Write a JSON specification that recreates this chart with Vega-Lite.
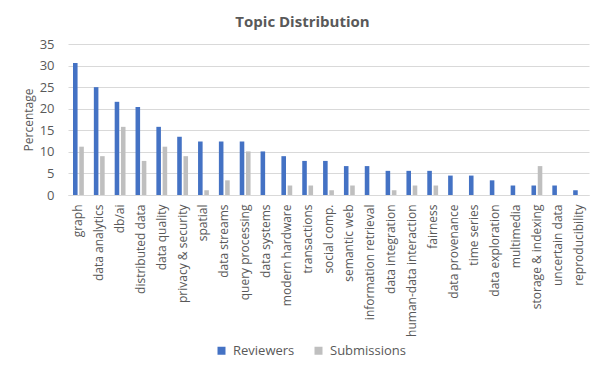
{
  "$schema": "https://vega.github.io/schema/vega-lite/v6.json",
  "width": 521,
  "height": 151,
  "autosize": {"type": "none"},
  "padding": {"left": 68, "top": 44, "right": 4, "bottom": 174},
  "background": "white",
  "title": {
    "text": "Topic Distribution",
    "font": "Open Sans",
    "fontSize": 15,
    "fontWeight": "bold",
    "color": "#595959",
    "anchor": "middle",
    "baseline": "alphabetic",
    "offset": 18,
    "dx": -26,
    "dy": 22
  },
  "data": {
    "values": [
      {"topic": "graph", "group": "Reviewers", "pct": 30.6},
      {"topic": "graph", "group": "Submissions", "pct": 11.2},
      {"topic": "data analytics", "group": "Reviewers", "pct": 25.0},
      {"topic": "data analytics", "group": "Submissions", "pct": 9.0},
      {"topic": "db/ai", "group": "Reviewers", "pct": 21.6},
      {"topic": "db/ai", "group": "Submissions", "pct": 15.8},
      {"topic": "distributed data", "group": "Reviewers", "pct": 20.4},
      {"topic": "distributed data", "group": "Submissions", "pct": 7.9},
      {"topic": "data quality", "group": "Reviewers", "pct": 15.8},
      {"topic": "data quality", "group": "Submissions", "pct": 11.2},
      {"topic": "privacy & security", "group": "Reviewers", "pct": 13.5},
      {"topic": "privacy & security", "group": "Submissions", "pct": 9.0},
      {"topic": "spatial", "group": "Reviewers", "pct": 12.4},
      {"topic": "spatial", "group": "Submissions", "pct": 1.1},
      {"topic": "data streams", "group": "Reviewers", "pct": 12.4},
      {"topic": "data streams", "group": "Submissions", "pct": 3.4},
      {"topic": "query processing", "group": "Reviewers", "pct": 12.4},
      {"topic": "query processing", "group": "Submissions", "pct": 10.1},
      {"topic": "data systems", "group": "Reviewers", "pct": 10.1},
      {"topic": "data systems", "group": "Submissions", "pct": 0},
      {"topic": "modern hardware", "group": "Reviewers", "pct": 9.0},
      {"topic": "modern hardware", "group": "Submissions", "pct": 2.2},
      {"topic": "transactions", "group": "Reviewers", "pct": 7.9},
      {"topic": "transactions", "group": "Submissions", "pct": 2.2},
      {"topic": "social comp.", "group": "Reviewers", "pct": 7.9},
      {"topic": "social comp.", "group": "Submissions", "pct": 1.1},
      {"topic": "semantic web", "group": "Reviewers", "pct": 6.7},
      {"topic": "semantic web", "group": "Submissions", "pct": 2.2},
      {"topic": "information retrieval", "group": "Reviewers", "pct": 6.7},
      {"topic": "information retrieval", "group": "Submissions", "pct": 0},
      {"topic": "data integration", "group": "Reviewers", "pct": 5.6},
      {"topic": "data integration", "group": "Submissions", "pct": 1.1},
      {"topic": "human-data interaction", "group": "Reviewers", "pct": 5.6},
      {"topic": "human-data interaction", "group": "Submissions", "pct": 2.2},
      {"topic": "fairness", "group": "Reviewers", "pct": 5.6},
      {"topic": "fairness", "group": "Submissions", "pct": 2.2},
      {"topic": "data provenance", "group": "Reviewers", "pct": 4.5},
      {"topic": "data provenance", "group": "Submissions", "pct": 0},
      {"topic": "time series", "group": "Reviewers", "pct": 4.5},
      {"topic": "time series", "group": "Submissions", "pct": 0},
      {"topic": "data exploration", "group": "Reviewers", "pct": 3.4},
      {"topic": "data exploration", "group": "Submissions", "pct": 0},
      {"topic": "multimedia", "group": "Reviewers", "pct": 2.2},
      {"topic": "multimedia", "group": "Submissions", "pct": 0},
      {"topic": "storage & indexing", "group": "Reviewers", "pct": 2.2},
      {"topic": "storage & indexing", "group": "Submissions", "pct": 6.7},
      {"topic": "uncertain data", "group": "Reviewers", "pct": 2.2},
      {"topic": "uncertain data", "group": "Submissions", "pct": 0},
      {"topic": "reproducibility", "group": "Reviewers", "pct": 1.1},
      {"topic": "reproducibility", "group": "Submissions", "pct": 0}
    ]
  },
  "mark": {"type": "bar"},
  "encoding": {
    "x": {
      "field": "topic",
      "type": "nominal",
      "sort": null,
      "scale": {"paddingInner": 0.48, "paddingOuter": 0.24},
      "axis": {
        "title": null,
        "labelAngle": -90,
        "labelAlign": "right",
        "labelBaseline": "middle",
        "labelPadding": 9,
        "labelFont": "Open Sans",
        "labelFontSize": 12,
        "labelColor": "#595959",
        "ticks": false,
        "tickSize": 0,
        "domainColor": "#D9D9D9",
        "domainWidth": 1,
        "labelOverlap": false
      }
    },
    "xOffset": {
      "field": "group",
      "type": "nominal",
      "scale": {"paddingInner": 0.27, "paddingOuter": 0}
    },
    "y": {
      "field": "pct",
      "type": "quantitative",
      "scale": {"domain": [0, 35], "nice": false},
      "axis": {
        "title": "Percentage",
        "titleFont": "Open Sans",
        "titleFontSize": 12,
        "titleFontWeight": "normal",
        "titleColor": "#595959",
        "titlePadding": 4,
        "values": [0, 5, 10, 15, 20, 25, 30, 35],
        "labelFont": "Open Sans",
        "labelFontSize": 13,
        "labelColor": "#595959",
        "labelPadding": 14,
        "ticks": false,
        "tickSize": 0,
        "domain": false,
        "grid": true,
        "gridColor": "#D9D9D9",
        "gridWidth": 1
      }
    },
    "color": {
      "field": "group",
      "type": "nominal",
      "scale": {"domain": ["Reviewers", "Submissions"], "range": ["#4472C4", "#BFBFBF"]},
      "legend": {
        "title": null,
        "orient": "none",
        "direction": "horizontal",
        "legendX": 147,
        "legendY": 300,
        "symbolType": "square",
        "symbolSize": 64,
        "symbolStrokeWidth": 0,
        "labelFont": "Open Sans",
        "labelFontSize": 13,
        "labelColor": "#595959",
        "labelOffset": 5,
        "columnPadding": 17
      }
    }
  },
  "config": {
    "view": {"stroke": null}
  }
}
